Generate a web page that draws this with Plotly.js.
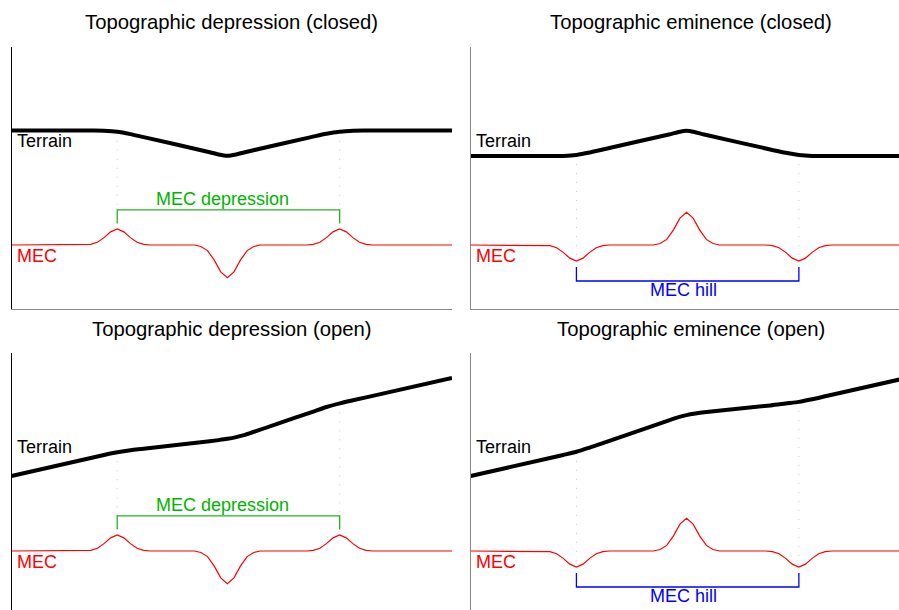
<!DOCTYPE html>
<html><head><meta charset="utf-8">
<script src="https://cdn.plot.ly/plotly-3.0.1.min.js"></script>
<style>html,body{margin:0;padding:0;overflow:hidden;background:#fff}</style>
</head><body><div id="chart" style="width:912px;height:616px"></div>
<script>
// ---- data ----
const panelTitles = ["Topographic depression (closed)", "Topographic eminence (closed)",
                     "Topographic depression (open)", "Topographic eminence (open)"];
const terrainLabel = "Terrain";
const mecLabel = "MEC";
const depressionLabel = "MEC depression";
const hillLabel = "MEC hill";

const terrainX = [0, 18, 21, 24, 27, 30, 45, 47, 49, 51, 53, 68, 71.5, 74.5, 77.5, 81, 100];
const terrainClosedDepression = [7.15, 7.15, 7.14, 7.08, 6.93, 6.74, 5.80, 5.66, 5.58, 5.66, 5.80, 6.74, 6.95, 7.08, 7.14, 7.15, 7.15];
const terrainClosedEminence   = [5.56, 5.56, 5.57, 5.63, 5.78, 5.97, 6.91, 7.05, 7.14, 7.05, 6.91, 5.97, 5.76, 5.63, 5.57, 5.56, 5.56];
const terrainOpenDepression   = [4.69, 5.81, 6.00, 6.17, 6.30, 6.39, 6.86, 6.93, 7.01, 7.12, 7.26, 8.67, 9.00, 9.23, 9.42, 9.63, 10.81];
const terrainOpenEminence     = [4.69, 5.81, 6.00, 6.20, 6.46, 6.74, 8.17, 8.35, 8.49, 8.59, 8.67, 9.10, 9.22, 9.32, 9.48, 9.70, 10.88];

const mecX = [0, 16.5, 18, 19.5, 21, 22.5, 24, 25.5, 27, 28.5, 30, 31.5,
              41.5, 43, 44.5, 46, 47.5, 49, 50.5, 52, 53.5, 55, 56.5,
              67, 68.5, 70, 71.5, 73, 74.5, 76, 77.5, 79, 80.5, 82, 100];
const mecDepression = [0, 0, 0.04, 0.17, 0.46, 0.82, 1, 0.82, 0.46, 0.17, 0.04, 0,
                       0, -0.09, -0.35, -0.93, -1.68, -2.04, -1.68, -0.93, -0.35, -0.09, 0,
                       0, 0.04, 0.17, 0.46, 0.82, 1, 0.82, 0.46, 0.17, 0.04, 0, 0];
const mecHill = [0, 0, -0.04, -0.17, -0.46, -0.82, -1, -0.82, -0.46, -0.17, -0.04, 0,
                 0, 0.09, 0.35, 0.93, 1.68, 2.04, 1.68, 0.93, 0.35, 0.09, 0,
                 0, -0.04, -0.17, -0.46, -0.82, -1, -0.82, -0.46, -0.17, -0.04, 0, 0];

const featureX = [24, 74.5];           // edges of the feature (dotted guides)
const featureIdx = [3, 13];            // index of those x in terrainX
const depressionBracket = [1.35, 2.2]; // [end, bar] levels
const hillBracket = [-1.38, -2.25];
const labelTerrainY = 6.53, labelMecY = -0.69;
const depressionTextPos = [47.8, 2.87];
const hillTextPos = [48.4, -2.8];

// ---- layout helpers ----
const W = 912, H = 616;
const xDomL = [11.5 / W, 452 / W], xDomR = [470.7 / W, 911.2 / W];
const yDomT = [1 - 309 / H, 1 - 47 / H], yDomB = [1 - 615 / H, 1 - 353 / H];
const FONT = "Liberation Sans, Arial, Helvetica, sans-serif";

function xa(dom, anchor) {
  return {domain: dom, anchor: anchor, range: [0, 100], showgrid: false, zeroline: false,
          showticklabels: false, ticks: "", showline: true, linecolor: "#888", linewidth: 1, fixedrange: true};
}
function ya(dom, anchor, col) {
  return {domain: dom, anchor: anchor, range: [-4, 12.375], showgrid: false, zeroline: false,
          showticklabels: false, ticks: "", showline: true, linecolor: col, linewidth: 1, fixedrange: true};
}

const panels = [
  {xs: "x",  ys: "y",  terrain: terrainClosedDepression, mec: mecDepression, kind: "dep"},
  {xs: "x2", ys: "y2", terrain: terrainClosedEminence,   mec: mecHill,       kind: "hill"},
  {xs: "x3", ys: "y3", terrain: terrainOpenDepression,   mec: mecDepression, kind: "dep"},
  {xs: "x4", ys: "y4", terrain: terrainOpenEminence,     mec: mecHill,       kind: "hill"}
];

const traces = [];
const annotations = [];
panels.forEach((p, i) => {
  const br = p.kind === "dep" ? depressionBracket : hillBracket;
  const dotEnd = p.kind === "dep" ? br[0] : -1;
  traces.push({x: [featureX[0], featureX[0], null, featureX[1], featureX[1]],
               y: [p.terrain[featureIdx[0]], dotEnd, null, p.terrain[featureIdx[1]], dotEnd],
               xaxis: p.xs, yaxis: p.ys, mode: "lines", hoverinfo: "skip",
               line: {color: "#c4c4c4", width: 1, dash: "1px,8px"}});
  traces.push({x: terrainX, y: p.terrain, xaxis: p.xs, yaxis: p.ys, mode: "lines",
               line: {color: "#000", width: 4, shape: "spline", smoothing: 0.8}});
  traces.push({x: mecX, y: p.mec, xaxis: p.xs, yaxis: p.ys, mode: "lines",
               line: {color: "#ff0000", width: 1.2}});
  traces.push({x: [featureX[0], featureX[0], featureX[1], featureX[1]],
               y: [br[0], br[1], br[1], br[0]], xaxis: p.xs, yaxis: p.ys, mode: "lines",
               line: {color: p.kind === "dep" ? "#22b422" : "#0000ff", width: 1.3}});
  annotations.push({xref: p.xs, yref: p.ys, x: 0.7, y: labelTerrainY, text: terrainLabel,
                    xanchor: "left", yanchor: "middle", showarrow: false,
                    font: {family: FONT, size: 18, color: "#000"}});
  annotations.push({xref: p.xs, yref: p.ys, x: 0.7, y: labelMecY, text: mecLabel,
                    xanchor: "left", yanchor: "middle", showarrow: false,
                    font: {family: FONT, size: 18, color: "#ff0000"}});
  const tp = p.kind === "dep" ? depressionTextPos : hillTextPos;
  annotations.push({xref: p.xs, yref: p.ys, x: tp[0], y: tp[1],
                    text: p.kind === "dep" ? depressionLabel : hillLabel,
                    xanchor: "center", yanchor: "middle", showarrow: false,
                    font: {family: FONT, size: 18, color: p.kind === "dep" ? "#00b400" : "#0000ff"}});
});

const titlePos = [[(xDomL[0] + xDomL[1]) / 2, 1 - 22.5 / H], [(xDomR[0] + xDomR[1]) / 2, 1 - 22.5 / H],
                  [(xDomL[0] + xDomL[1]) / 2, 1 - 329 / H], [(xDomR[0] + xDomR[1]) / 2, 1 - 329 / H]];
panelTitles.forEach((t, i) => {
  annotations.push({xref: "paper", yref: "paper", x: titlePos[i][0], y: titlePos[i][1], text: t,
                    xanchor: "center", yanchor: "middle", showarrow: false,
                    font: {family: FONT, size: 20.3, color: "#000"}});
});

const layout = {
  width: W, height: H, margin: {l: 0, r: 0, t: 0, b: 0},
  paper_bgcolor: "#fff", plot_bgcolor: "#fff", showlegend: false,
  xaxis: xa(xDomL, "y"), yaxis: ya(yDomT, "x", "#000"),
  xaxis2: xa(xDomR, "y2"), yaxis2: ya(yDomT, "x2", "#888"),
  xaxis3: xa(xDomL, "y3"), yaxis3: ya(yDomB, "x3", "#000"),
  xaxis4: xa(xDomR, "y4"), yaxis4: ya(yDomB, "x4", "#888"),
  annotations: annotations
};
Plotly.newPlot("chart", traces, layout, {displayModeBar: false, staticPlot: true});
</script></body></html>
